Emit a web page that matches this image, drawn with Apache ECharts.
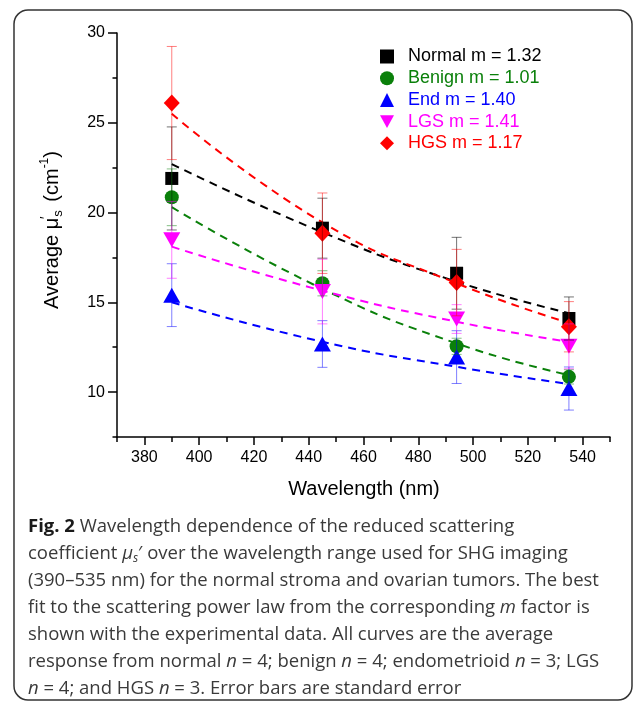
<!DOCTYPE html>
<html>
<head>
<meta charset="utf-8">
<script src="https://cdn.jsdelivr.net/npm/echarts@6/dist/echarts.min.js"></script>
<style>html,body{margin:0;padding:0;background:#fff;}#c{width:634px;height:704px;}</style>
</head>
<body>
<div id="c"></div>
<script>
// ---- data ----
const wavelengths = [390, 445, 494, 535];
const normalMean = [21.9, 19.13, 16.62, 14.1];
const normalErr  = [2.87, 1.67, 2.0, 1.2];
const benignMean = [20.85, 16.06, 12.55, 10.85];
const benignErr  = [1.58, 0.7, 0.45, 0.4];
const endMean    = [15.4, 12.68, 11.95, 10.2];
const endErr     = [1.75, 1.3, 1.47, 1.2];
const lgsMean    = [18.48, 15.6, 14.07, 12.55];
const lgsErr     = [2.14, 1.8, 0.8, 1.25];
const hgsMean    = [26.1, 18.85, 16.1, 13.64];
const hgsErr     = [3.15, 2.24, 1.85, 1.4];
// power-law fit curves
const normalFit = [22.7, 18.9, 16.15, 14.4];
const benignFit = [20.3, 15.75, 12.71, 10.95];
const endFit    = [15.0, 12.8, 11.41, 10.45];
const lgsFit    = [18.1, 15.65, 13.92, 12.8];
const hgsFit    = [25.5, 19.45, 16.06, 13.85];
const seriesNames = ['Normal m = 1.32', 'Benign m = 1.01', 'End m = 1.40', 'LGS m = 1.41', 'HGS m = 1.17'];
const xMajorTicks = [380, 400, 420, 440, 460, 480, 500, 520, 540];
const xMinorTicks = [370, 390, 410, 430, 450, 470, 490, 510, 530, 550];
const yMajorTicks = [10, 15, 20, 25, 30];
const yMinorTicks = [7.5, 12.5, 17.5, 22.5, 27.5];

const colors = ['#000000', '#0a800a', '#0000ff', '#ff00ff', '#ff0000'];
const errColors = ['rgba(0,0,0,0.55)', 'rgba(10,128,10,0.5)', 'rgba(0,0,255,0.5)', 'rgba(255,0,255,0.5)', 'rgba(255,0,0,0.5)'];
const symbols = ['rect', 'circle', 'triangle', 'triangle', 'diamond'];
const legendIcons = ['rect', 'circle', 'triangle', 'path://M0,0 L10,0 L5,9 Z', 'diamond'];
const symbolSizes = [13, 14, [17, 15], [17, 15], [16, 17]];
const symbolRotates = [0, 0, 0, 180, 0];
const means = [normalMean, benignMean, endMean, lgsMean, hgsMean];
const errs = [normalErr, benignErr, endErr, lgsErr, hgsErr];
const fits = [normalFit, benignFit, endFit, lgsFit, hgsFit];

const chart = echarts.init(document.getElementById('c'), null, {renderer: 'canvas'});
const axisFont = 'Liberation Sans, Arial, sans-serif';
const series = [];
// fit lines
fits.forEach((f, i) => {
  series.push({
    type: 'line', name: 'fit' + i, data: wavelengths.map((w, k) => [w, f[k]]),
    smooth: true, symbol: 'none', silent: true, z: 2,
    lineStyle: {color: colors[i], width: 2, type: [8, 6]}
  });
});
// markers
means.forEach((m, i) => {
  series.push({
    type: 'scatter', name: seriesNames[i], data: wavelengths.map((w, k) => [w, m[k]]),
    symbol: symbols[i], symbolSize: symbolSizes[i], symbolRotate: symbolRotates[i], z: 3,
    itemStyle: {color: colors[i], opacity: 1}
  });
});
// error bars
means.forEach((m, i) => {
  series.push({
    type: 'custom', name: 'err' + i, z: 4, silent: true,
    data: wavelengths.map((w, k) => [w, m[k] - errs[i][k], m[k] + errs[i][k]]),
    encode: {x: 0, y: [1, 2]},
    renderItem: function (params, api) {
      const x = api.value(0);
      const pLo = api.coord([x, api.value(1)]);
      const pHi = api.coord([x, api.value(2)]);
      const hw = 5;
      const st = {stroke: errColors[i], lineWidth: 1};
      return {type: 'group', children: [
        {type: 'line', shape: {x1: pHi[0], y1: pHi[1], x2: pLo[0], y2: pLo[1]}, style: st},
        {type: 'line', shape: {x1: pHi[0] - hw, y1: pHi[1], x2: pHi[0] + hw, y2: pHi[1]}, style: st},
        {type: 'line', shape: {x1: pLo[0] - hw, y1: pLo[1], x2: pLo[0] + hw, y2: pLo[1]}, style: st}
      ]};
    }
  });
});

const capFont = 'Open Sans, Noto Sans, sans-serif';
const capSize = 18.5;
const capRich = {
  b: {fontWeight: 'bold', fontFamily: capFont, fontSize: capSize, fill: '#1a1a1a'},
  i: {fontStyle: 'italic', fontFamily: capFont, fontSize: capSize, fill: '#3a3a3a'},
  is: {fontStyle: 'italic', fontFamily: capFont, fontSize: 12, fill: '#3a3a3a', verticalAlign: 'bottom', lineHeight: 22}
};
const capLines = [
  '{b|Fig. 2} Wavelength dependence of the reduced scattering',
  'coefficient {i|μ}{is|s}′ over the wavelength range used for SHG imaging',
  '(390–535 nm) for the normal stroma and ovarian tumors. The best',
  'fit to the scattering power law from the corresponding {i|m} factor is',
  'shown with the experimental data. All curves are the average',
  'response from normal {i|n} = 4; benign {i|n} = 4; endometrioid {i|n} = 3; LGS',
  '{i|n} = 4; and HGS {i|n} = 3. Error bars are standard error'
];
const graphics = [
  {type: 'rect', shape: {x: 14, y: 10, width: 618, height: 690, r: 14}, style: {fill: 'none', stroke: '#333', lineWidth: 1.5}, z: 0},
  {type: 'text', x: 52, y: 230, rotation: Math.PI / 2, z: 10,
    style: {
      text: '{a|Average μ}{p|\u2032}{s|s}{a| (cm}{u|-1}{a|)}',
      align: 'center', verticalAlign: 'middle',
      rich: {
        a: {fontFamily: axisFont, fontSize: 20, fill: '#000', lineHeight: 26, verticalAlign: 'middle'},
        p: {fontFamily: axisFont, fontSize: 14, fill: '#000', lineHeight: 14, verticalAlign: 'top', width: 0},
        s: {fontFamily: axisFont, fontSize: 13, fill: '#000', lineHeight: 13, verticalAlign: 'bottom', padding: [0, 3, 0, 1]},
        u: {fontFamily: axisFont, fontSize: 12, fill: '#000', lineHeight: 12, verticalAlign: 'top'}
      }
    }},
  {type: 'text', x: 364, y: 489, z: 10,
    style: {text: 'Wavelength (nm)', fontFamily: axisFont, fontSize: 20, fill: '#000', align: 'center', verticalAlign: 'middle'}}
];
capLines.forEach((t, k) => {
  graphics.push({type: 'text', x: 28, y: 527 + 27 * k, z: 10,
    style: {text: t, rich: capRich, fontFamily: capFont, fontSize: capSize, fill: '#3a3a3a', align: 'left', verticalAlign: 'middle'}});
});

const option = {
  backgroundColor: '#fff',
  animation: false,
  grid: {left: 117, right: 24, top: 33, bottom: 267, containLabel: false},
  legend: {
    orient: 'vertical', left: 375, top: 42, itemWidth: 14, itemHeight: 14, itemGap: 2.7,
    selectedMode: false,
    textStyle: {fontFamily: axisFont, fontSize: 18, lineHeight: 19, padding: [0, 0, 0, 9]},
    data: seriesNames.map((n, i) => ({name: n, icon: legendIcons[i], textStyle: {color: colors[i]}}))
  },
  xAxis: [
    {type: 'value', min: 370, max: 550, position: 'bottom',
      axisLine: {show: true, lineStyle: {color: '#000', width: 1.5}},
      axisTick: {show: true, customValues: xMajorTicks, length: 8, lineStyle: {color: '#000', width: 1.5}},
      axisLabel: {show: true, customValues: xMajorTicks, color: '#000', fontFamily: axisFont, fontSize: 16, margin: 13},
      splitLine: {show: false}},
    {type: 'value', min: 370, max: 550, position: 'bottom', offset: 0,
      axisLine: {show: false},
      axisTick: {show: true, customValues: xMinorTicks, length: 5, lineStyle: {color: '#000', width: 1.5}},
      axisLabel: {show: false}, splitLine: {show: false}}
  ],
  yAxis: [
    {type: 'value', min: 7.5, max: 30, position: 'left',
      axisLine: {show: true, lineStyle: {color: '#000', width: 1.5}},
      axisTick: {show: true, customValues: yMajorTicks, length: 9, lineStyle: {color: '#000', width: 1.5}},
      axisLabel: {show: true, customValues: yMajorTicks, color: '#000', fontFamily: axisFont, fontSize: 16, margin: 12},
      splitLine: {show: false}},
    {type: 'value', min: 7.5, max: 30, position: 'left', offset: 0,
      axisLine: {show: false},
      axisTick: {show: true, customValues: yMinorTicks, length: 4.5, lineStyle: {color: '#000', width: 1.5}},
      axisLabel: {show: false}, splitLine: {show: false}}
  ],
  graphic: graphics,
  series: series
};
chart.setOption(option);
</script>
</body>
</html>
